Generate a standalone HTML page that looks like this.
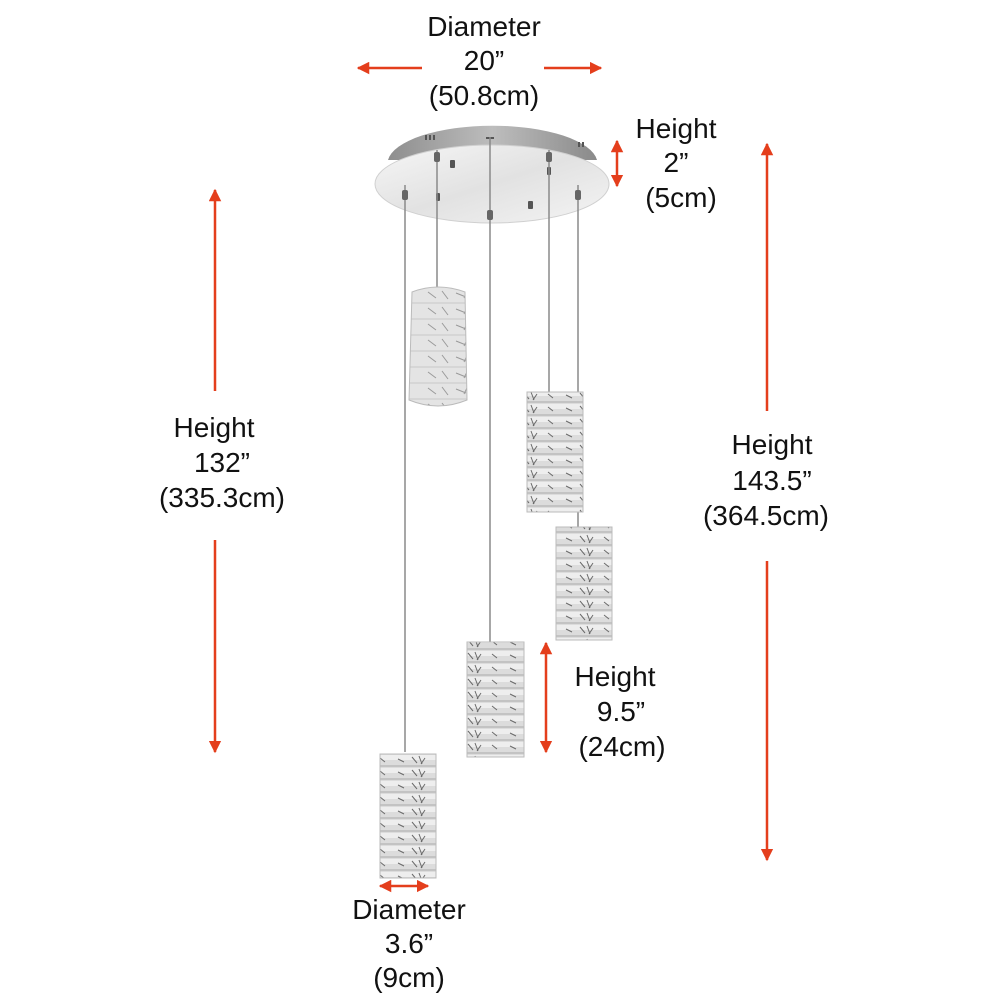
<!DOCTYPE html>
<html><head><style>
html,body{margin:0;padding:0;background:#fff;}
svg{display:block}
text{font-family:"Liberation Sans",Arial,sans-serif;font-size:28px;fill:#111;text-anchor:middle}
</style></head><body>
<svg width="1000" height="1000" viewBox="0 0 1000 1000" xmlns="http://www.w3.org/2000/svg">
<defs>
<marker id="ah" viewBox="0 0 10 10" refX="9" refY="5" markerWidth="5" markerHeight="5" orient="auto-start-reverse">
<path d="M0,0 L10,5 L0,10 z" fill="#e43e1c"/></marker>
<linearGradient id="rim" x1="0" x2="1" y1="0" y2="0">
<stop offset="0" stop-color="#8e8e8e"/><stop offset="0.5" stop-color="#bdbdbd"/><stop offset="1" stop-color="#8a8a8a"/></linearGradient>
<linearGradient id="plate" x1="0" x2="1" y1="0" y2="1">
<stop offset="0" stop-color="#f6f6f6"/><stop offset="0.5" stop-color="#e2e2e2"/><stop offset="1" stop-color="#f4f4f4"/></linearGradient>
<pattern id="cr" width="56" height="13" patternUnits="userSpaceOnUse">
<rect width="56" height="13" fill="#dcdcdc"/>
<rect x="0" y="1" width="56" height="5" fill="#eeeeee"/>
<line x1="0" y1="12" x2="56" y2="12" stroke="#9a9a9a" stroke-width="0.8"/>
<path d="M20,3 l5,6 M27,2 l3,8 M33,4 l-4,6 M6,5 l6,3 M44,4 l5,4" stroke="#6a6a6a" stroke-width="1"/>
</pattern>
<pattern id="cr2" width="60" height="16" patternUnits="userSpaceOnUse">
<rect width="60" height="16" fill="#e4e4e4"/>
<path d="M8,4 l8,6 M22,3 l6,8 M36,5 l10,4 M48,2 l-4,8" stroke="#9a9a9a" stroke-width="1"/>
<line x1="0" y1="15" x2="60" y2="15" stroke="#c0c0c0" stroke-width="0.8"/>
</pattern>
</defs>

<!-- canopy -->
<path d="M388,160 A105,38 0 0 1 597,160 Z" fill="url(#rim)"/>
<ellipse cx="492" cy="184" rx="117" ry="39" fill="url(#plate)" stroke="#d0d0d0"/>
<g fill="#555">
<rect x="425" y="135" width="2" height="5"/><rect x="429" y="135" width="2" height="5"/><rect x="433" y="135" width="2" height="5"/>
<rect x="578" y="142" width="2" height="5"/><rect x="582" y="142" width="2" height="5"/>
<rect x="486" y="137" width="8" height="2"/>
<rect x="450" y="160" width="5" height="8" rx="1"/>
<rect x="528" y="201" width="5" height="8" rx="1"/>
<rect x="436" y="193" width="4" height="8" rx="1"/>
<rect x="547" y="167" width="4" height="8" rx="1"/>
</g>

<!-- wires -->
<g stroke="#8a8a8a" stroke-width="1.5">
<line x1="405" y1="185" x2="405" y2="752"/>
<line x1="437" y1="150" x2="437" y2="290"/>
<line x1="490" y1="137" x2="490" y2="642"/>
<line x1="549" y1="150" x2="549" y2="392"/>
<line x1="578" y1="185" x2="578" y2="527"/>
</g>
<g fill="#666">
<rect x="434" y="152" width="6" height="10" rx="2"/>
<rect x="546" y="152" width="6" height="10" rx="2"/>
<rect x="402" y="190" width="6" height="10" rx="2"/>
<rect x="575" y="190" width="6" height="10" rx="2"/>
<rect x="487" y="210" width="6" height="10" rx="2"/>
</g>

<!-- pendants -->
<path d="M412,292 Q438,282 465,292 L467,400 Q438,412 409,400 Z" fill="url(#cr2)" stroke="#bbb"/>
<rect x="527" y="392" width="56" height="120" fill="url(#cr)" stroke="#bbb"/>
<rect x="556" y="527" width="56" height="113" fill="url(#cr)" stroke="#bbb"/>
<rect x="467" y="642" width="57" height="115" fill="url(#cr)" stroke="#bbb"/>
<rect x="380" y="754" width="56" height="124" fill="url(#cr)" stroke="#bbb"/>

<!-- arrows -->
<g stroke="#e43e1c" stroke-width="2.5" fill="none">
<line x1="422" y1="68" x2="358" y2="68" marker-end="url(#ah)"/>
<line x1="544" y1="68" x2="601" y2="68" marker-end="url(#ah)"/>
<line x1="617" y1="141" x2="617" y2="186" marker-start="url(#ah)" marker-end="url(#ah)"/>
<line x1="215" y1="391" x2="215" y2="190" marker-end="url(#ah)"/>
<line x1="215" y1="540" x2="215" y2="752" marker-end="url(#ah)"/>
<line x1="767" y1="411" x2="767" y2="144" marker-end="url(#ah)"/>
<line x1="767" y1="561" x2="767" y2="860" marker-end="url(#ah)"/>
<line x1="546" y1="643" x2="546" y2="752" marker-start="url(#ah)" marker-end="url(#ah)"/>
<line x1="380" y1="886" x2="428" y2="886" marker-start="url(#ah)" marker-end="url(#ah)"/>
</g>

<!-- labels -->
<text x="484" y="36">Diameter</text>
<text x="484" y="70">20”</text>
<text x="484" y="105">(50.8cm)</text>
<text x="676" y="138">Height</text>
<text x="676" y="172">2”</text>
<text x="681" y="207">(5cm)</text>
<text x="214" y="437">Height</text>
<text x="222" y="472">132”</text>
<text x="222" y="507">(335.3cm)</text>
<text x="772" y="454">Height</text>
<text x="772" y="490">143.5”</text>
<text x="766" y="525">(364.5cm)</text>
<text x="615" y="686">Height</text>
<text x="621" y="721">9.5”</text>
<text x="622" y="756">(24cm)</text>
<text x="409" y="919">Diameter</text>
<text x="409" y="953">3.6”</text>
<text x="409" y="987">(9cm)</text>
</svg>
</body></html>
